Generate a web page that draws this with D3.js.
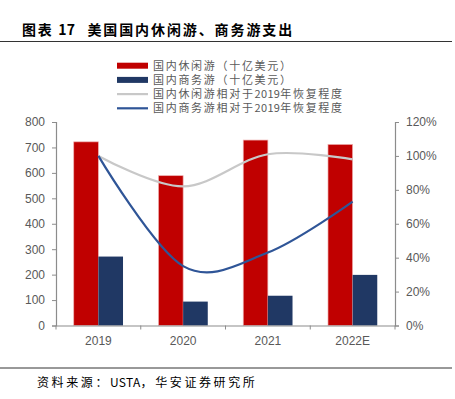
<!DOCTYPE html>
<meta charset="utf-8">
<style>
body { margin: 0; background: #fff; }
svg { font-family: "Liberation Sans", Arial, sans-serif; }
.axis path, .axis line { stroke: #8c8c8c; }
.axis text { fill: #595959; font-size: 12px; }
.cn { font-family: "Noto Sans CJK SC", sans-serif; }
</style>
<svg width="455" height="399"></svg>
<script src="https://d3js.org/d3.v7.min.js"></script>
<script>

var years = ["2019", "2020", "2021", "2022E"];
var leisure = [722, 589, 729, 712];
var business = [271, 94, 117, 199];
var leisureRecovery = [1.00, 0.82, 1.01, 0.98];
var businessRecovery = [1.00, 0.35, 0.43, 0.73];
var leftTicks = [0, 100, 200, 300, 400, 500, 600, 700, 800];
var rightTicks = [0, 0.2, 0.4, 0.6, 0.8, 1.0, 1.2];

var svg = d3.select("svg");
var pLeft = 56, pRight = 395, pTop = 122, pBottom = 325.5;

var x = d3.scaleBand().domain(years).range([pLeft, pRight]);
var x1 = d3.scaleBand().domain(["l", "b"]).range([0, x.bandwidth()]).paddingOuter(0.72).paddingInner(0);
var y = d3.scaleLinear().domain([0, 800]).range([pBottom, pTop]);
var y2 = d3.scaleLinear().domain([0, 1.2]).range([pBottom, pTop]);

// text with wide spacing on CJK parts, normal spacing on latin/digit runs
function spaced(sel, str, sp) {
  str.split(/([A-Za-z0-9]+)/).forEach(function(part) {
    if (!part) return;
    var latin = /^[A-Za-z0-9]+$/.test(part);
    sel.append("tspan").attr("letter-spacing", latin ? 0.3 : sp).text(part);
  });
}

// title
var title = svg.append("text").attr("class", "cn").attr("x", 22).attr("y", 35)
  .attr("font-size", 14).attr("font-weight", "bold").attr("fill", "#000");
spaced(title, "图表 17", 1.7);
var tRest = title.append("tspan").attr("dx", 12);
spaced(tRest, "美国国内休闲游、商务游支出", 1.9);
svg.append("line").attr("x1", 0).attr("x2", 452).attr("y1", 41.5).attr("y2", 41.5)
  .attr("stroke", "#333").attr("stroke-width", 1.2);

// bars
var g = svg.append("g");
years.forEach(function(yr, i) {
  g.append("rect").attr("x", x(yr) + x1("l")).attr("width", x1.bandwidth())
    .attr("y", y(leisure[i])).attr("height", pBottom - y(leisure[i]))
    .attr("fill", "#c00000").attr("stroke", "#eeb0b0").attr("stroke-width", 0.7);
  g.append("rect").attr("x", x(yr) + x1("b")).attr("width", x1.bandwidth())
    .attr("y", y(business[i])).attr("height", pBottom - y(business[i]))
    .attr("fill", "#203864");
});

// lines
var line = function(vals) {
  return d3.line()
    .x(function(d, i) { return x(years[i]) + x.bandwidth() / 2; })
    .y(function(d) { return y2(d); })
    .curve(d3.curveCardinal.tension(0))(vals);
};
svg.append("path").attr("d", line(leisureRecovery)).attr("fill", "none")
  .attr("stroke", "#c8c8c8").attr("stroke-width", 2.2);
svg.append("path").attr("d", line(businessRecovery)).attr("fill", "none")
  .attr("stroke", "#2f5597").attr("stroke-width", 2.2);

// axes
svg.append("g").attr("class", "axis").attr("transform", "translate(" + pLeft + ",0)")
  .call(d3.axisLeft(y).tickValues(leftTicks).tickSize(4).tickPadding(7));
svg.append("g").attr("class", "axis").attr("transform", "translate(" + pRight + ",0)")
  .call(d3.axisRight(y2).tickValues(rightTicks).tickSize(4).tickPadding(7).tickFormat(d3.format(".0%")));
var xa = svg.append("g").attr("class", "axis").attr("transform", "translate(0," + pBottom + ")")
  .call(d3.axisBottom(x).tickSize(0).tickPadding(11));
xa.selectAll(".tick line").remove();
xa.selectAll(".bt").data(d3.range(years.length + 1)).enter().append("line")
  .attr("x1", function(d) { return pLeft + d * x.step(); })
  .attr("x2", function(d) { return pLeft + d * x.step(); })
  .attr("y1", 0).attr("y2", 4);
svg.selectAll(".axis path").attr("stroke-width", 1.2);

// legend
var legend = [
  {t: "国内休闲游（十亿美元）", c: "#c00000", bar: true},
  {t: "国内商务游（十亿美元）", c: "#203864", bar: true},
  {t: "国内休闲游相对于2019年恢复程度", c: "#c8c8c8", bar: false},
  {t: "国内商务游相对于2019年恢复程度", c: "#2f5597", bar: false}
];
legend.forEach(function(d, i) {
  var ly = 65.7 + i * 14.2;
  if (d.bar) {
    svg.append("rect").attr("x", 117).attr("y", ly - 3).attr("width", 31).attr("height", 6).attr("fill", d.c);
  } else {
    svg.append("line").attr("x1", 117).attr("x2", 148).attr("y1", ly).attr("y2", ly)
      .attr("stroke", d.c).attr("stroke-width", 2.2);
  }
  var t = svg.append("text").attr("class", "cn").attr("x", 153).attr("y", ly + 4)
    .attr("font-size", 11).attr("fill", "#595959");
  spaced(t, d.t, 1.7);
});

// footer
svg.append("line").attr("x1", 0).attr("x2", 452).attr("y1", 368).attr("y2", 368)
  .attr("stroke", "#333").attr("stroke-width", 1);
var src = svg.append("text").attr("class", "cn").attr("x", 37).attr("y", 387)
  .attr("font-size", 12).attr("fill", "#000");
spaced(src, "资料来源：USTA，华安证券研究所", 2.6);

</script>
